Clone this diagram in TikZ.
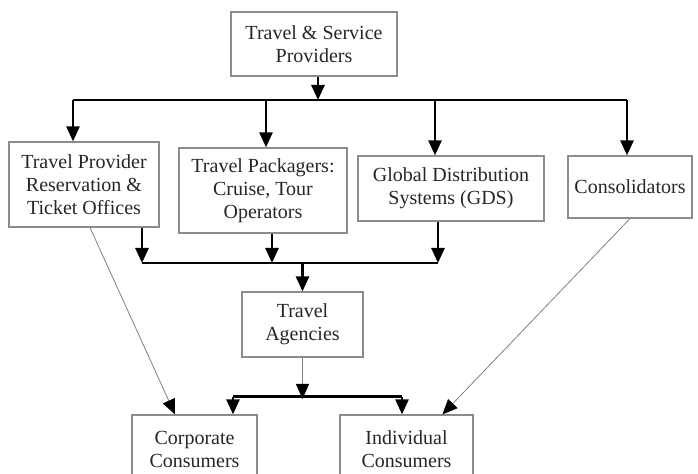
\documentclass[tikz,border=0pt]{standalone}
\usepackage{fontspec}
\setmainfont{Liberation Serif}
\usetikzlibrary{arrows.meta}
\begin{document}
\begin{tikzpicture}[x=0.5pt,y=-0.5pt,
  box/.style={draw=black!45,line width=0.6pt,align=center,inner sep=0pt,text=black!85,
    font=\fontsize{10}{11.5}\selectfont},
  arr/.style={line width=1.3pt,-{Triangle[length=7.5pt,width=6.5pt]}},
  bus/.style={line width=1pt},
  thin/.style={draw=black!50,line width=0.4pt,-{Triangle[length=7.5pt,width=6.5pt,color=black]}}]
\useasboundingbox (0,0) rectangle (698,474);
\clip (0,0) rectangle (698,474);
\node [box,minimum width=83pt,minimum height=32pt] (prov) at (314,44) {Travel \& Service\\Providers};
\node [box,minimum width=75pt,minimum height=42.5pt] (res) at (84,184.5) {Travel Provider\\Reservation \&\\Ticket Offices};
\node [box,minimum width=84pt,minimum height=42.5pt] (pack) at (263,190.5) {Travel Packagers:\\Cruise, Tour\\Operators};
\node [box,minimum width=93pt,minimum height=32.5pt] (gds) at (451,188.5) {Global Distribution\\Systems (GDS)};
\node [box,minimum width=62pt,minimum height=31pt] (cons) at (630,187) {Consolidators};
\node [box,minimum width=60.5pt,minimum height=32.5pt] (agen) at (302.5,324.5) {Travel\\Agencies};
\node [box,minimum width=62.5pt,minimum height=34pt] (corp) at (194.5,449) {Corporate\\Consumers};
\node [box,minimum width=66.5pt,minimum height=34pt] (indiv) at (406.5,449) {Individual\\Consumers};
\coordinate (t1) at (73,100);
\coordinate (t2) at (266,100);
\coordinate (t3) at (435,100);
\coordinate (t4) at (627,100);
\coordinate (m1) at (142,263);
\coordinate (m2) at (272,263);
\coordinate (m3) at (438,263);
\coordinate (b0) at (302.5,399);
\coordinate (b1) at (233,397);
\coordinate (b2) at (402,397);
\draw[arr] (prov.south -| 318,0) -- (318,100);
\draw[bus] (t1) -- (t4);
\draw[arr] (t1) -- (res.north -| t1);
\draw[arr] (t2) -- (pack.north -| t2);
\draw[arr] (t3) -- (gds.north -| t3);
\draw[arr] (t4) -- (cons.north -| t4);
\draw[bus] (m1) -- (m3);
\draw[arr] (res.south -| m1) -- (m1);
\draw[arr] (pack.south -| m2) -- (m2);
\draw[arr] (gds.south -| m3) -- (m3);
\draw[arr] (agen.north |- m1) -- (agen.north);
\draw[thin] (agen.south) -- (b0);
\draw[bus,line width=1.5pt] (b1) -- (b2);
\draw[arr] (b1) -- (corp.north -| b1);
\draw[arr] (b2) -- (indiv.north -| b2);
\draw[thin] ([xshift=3pt]res.south) -- ([xshift=-9.75pt]corp.north);
\draw[thin] (cons.south) -- ([xshift=18pt]indiv.north);
\end{tikzpicture}
\end{document}
